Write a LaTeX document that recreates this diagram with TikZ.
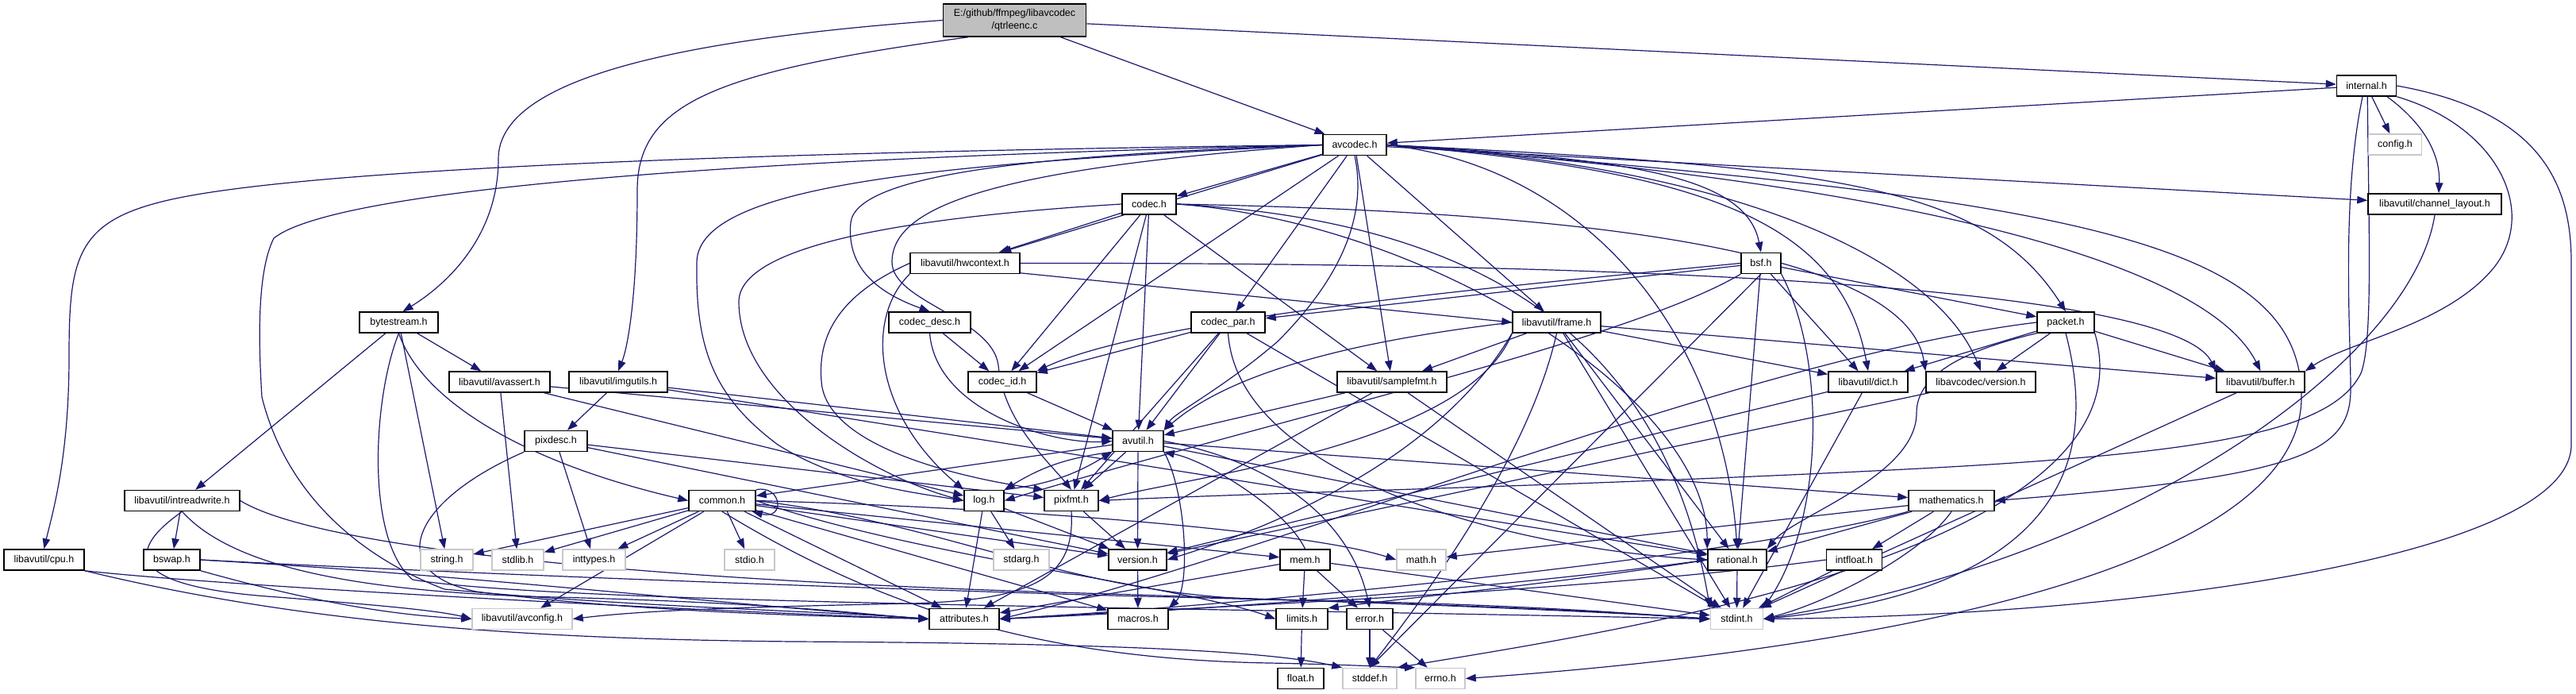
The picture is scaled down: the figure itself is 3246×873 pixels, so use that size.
\documentclass[tikz,border=0pt]{standalone}
\usepackage{fontspec}
\setmainfont{Liberation Sans}
\usetikzlibrary{arrows.meta,backgrounds}
\definecolor{edgeblue}{HTML}{191970}
\definecolor{mainfill}{HTML}{BFBFBF}
\definecolor{extgray}{HTML}{C8C8C8}
\newcommand\nodefont{\fontsize{12.5}{16}\selectfont}
\newcommand\mainnodefont{\fontsize{12.5}{16}\selectfont}
\newcommand\dd[2]{\draw[dep] (#1) -- (#2);}
\tikzset{
 box/.style={draw=black, line width=1.5pt, fill=white, minimum height=26pt, inner sep=0pt, font=\nodefont},
 ext/.style={box, draw=extgray},
 dep/.style={draw=edgeblue, line width=1.2pt, -{Triangle[length=13pt,width=9.5pt]}},
}
\begin{document}
\begin{tikzpicture}[x=1pt,y=-1pt]
\useasboundingbox (0,0) rectangle (3246,873);
% ---------------- nodes
\node[box, fill=mainfill, minimum width=180pt, minimum height=41pt, align=center, font=\mainnodefont] (main) at (1278.5,25.5) {E:/github/ffmpeg/libavcodec\\/qtrleenc.c};
\node[box, minimum width=75pt]  (internal) at (2982,108) {internal.h};
\node[box, minimum width=80pt]  (avcodec) at (1707,182.5) {avcodec.h};
\node[ext, minimum width=67pt]  (config) at (3018,182) {config.h};
\node[box, minimum width=168pt] (chlayout) at (3068,257) {libavutil/channel\_layout.h};
\node[box, minimum width=68pt]  (codec) at (1448,257) {codec.h};
\node[box, minimum width=138pt] (hwctx) at (1216,331.5) {libavutil/hwcontext.h};
\node[box, minimum width=50pt]  (bsf) at (2219,331.5) {bsf.h};
\node[box, minimum width=99pt]  (bytestream) at (502.5,406) {bytestream.h};
\node[box, minimum width=103pt] (codecdesc) at (1171.5,406) {codec\_desc.h};
\node[box, minimum width=93pt]  (codecpar) at (1547.5,406) {codec\_par.h};
\node[box, minimum width=111pt] (frame) at (1961.5,406) {libavutil/frame.h};
\node[box, minimum width=72pt]  (packet) at (2603,406) {packet.h};
\node[box, minimum width=86pt]  (codecid) at (1263,481) {codec\_id.h};
\node[box, minimum width=138pt] (samplefmt) at (1754,481) {libavutil/samplefmt.h};
\node[box, minimum width=100pt] (dict) at (2354,481) {libavutil/dict.h};
\node[box, minimum width=138pt] (lavcver) at (2496,481) {libavcodec/version.h};
\node[box, minimum width=111pt] (buffer) at (2848.5,481) {libavutil/buffer.h};
\node[box, minimum width=127pt] (avassert) at (629.5,481) {libavutil/avassert.h};
\node[box, minimum width=124pt] (imgutils) at (779,481) {libavutil/imgutils.h};
\node[box, minimum width=64pt]  (avutil) at (1434,555.5) {avutil.h};
\node[box, minimum width=79pt]  (pixdesc) at (700.5,555.5) {pixdesc.h};
\node[box, minimum width=145pt] (intreadwrite) at (229.5,630.5) {libavutil/intreadwrite.h};
\node[box, minimum width=84pt]  (common) at (910,630.5) {common.h};
\node[box, minimum width=50pt]  (log) at (1240,630.5) {log.h};
\node[box, minimum width=68pt]  (pixfmt) at (1350,630.5) {pixfmt.h};
\node[box, minimum width=108pt] (mathematics) at (2459,630.5) {mathematics.h};
\node[box, minimum width=101pt] (cpu) at (55.5,705) {libavutil/cpu.h};
\node[box, minimum width=71pt]  (bswap) at (216.5,705) {bswap.h};
\node[ext, minimum width=66pt]  (string) at (563,705) {string.h};
\node[ext, minimum width=65pt]  (stdlib) at (652.5,705) {stdlib.h};
\node[ext, minimum width=79pt]  (inttypes) at (748.5,705) {inttypes.h};
\node[ext, minimum width=63pt]  (stdio) at (944.5,705) {stdio.h};
\node[ext, minimum width=70pt]  (stdarg) at (1287,705) {stdarg.h};
\node[box, minimum width=73pt]  (version) at (1433.5,705) {version.h};
\node[box, minimum width=63pt]  (mem) at (1644.5,705) {mem.h};
\node[ext, minimum width=62pt]  (math) at (1791,705) {math.h};
\node[box, minimum width=74pt]  (rational) at (2189,705) {rational.h};
\node[box, minimum width=70pt]  (intfloat) at (2336.5,705) {intfloat.h};
\node[ext, minimum width=126pt] (avconfig) at (658,779.5) {libavutil/avconfig.h};
\node[box, minimum width=88pt]  (attributes) at (1215,779.5) {attributes.h};
\node[box, minimum width=76pt]  (macros) at (1434,779.5) {macros.h};
\node[box, minimum width=65pt]  (limits) at (1640.5,779.5) {limits.h};
\node[box, minimum width=58pt]  (error) at (1726,779.5) {error.h};
\node[ext, minimum width=66pt]  (stdint) at (2188.5,779.5) {stdint.h};
\node[box, minimum width=58pt]  (float) at (1639,854.5) {float.h};
\node[ext, minimum width=68pt]  (stddef) at (1726,854.5) {stddef.h};
\node[ext, minimum width=62pt]  (errno) at (1815,854.5) {errno.h};
% ---------------- edges
\begin{pgfonlayer}{background}
\fill[white] (0,0) rectangle (3246,873);
% main
\dd{main}{avcodec}
\dd{main}{internal}
\draw[dep] (main.west) .. controls (850,50) and (628,100) .. (628,200) .. controls (628,300) and (560,360) .. (bytestream.70);
\draw[dep] (main.200) .. controls (900,90) and (803,130) .. (803,240) .. controls (803,380) and (790,440) .. (imgutils.north);
% internal
\dd{internal}{avcodec}
\dd{internal}{config}
\draw[dep] ([xshift=26pt]internal.south) .. controls (3060,160) and (3075,200) .. ([xshift=5pt]chlayout.north);
\draw[dep] (internal.south east) .. controls (3150,160) and (3200,270) .. (3140,340) .. controls (3080,410) and (2960,430) .. (buffer.north east);
\draw[dep] (internal.250) .. controls (2950,250) and (2962,420) .. (2962,490) .. controls (2962,570) and (2900,600) .. (mathematics.east);
\draw[dep] (internal.275) .. controls (2985,300) and (2990,430) .. (2975,470) .. controls (2940,540) and (2800,570) .. (2420,590) .. controls (2000,612) and (1600,620) .. (pixfmt.east);
\draw[dep] (internal.east) .. controls (3200,140) and (3240,230) .. (3240,330) -- (3240,560) .. controls (3240,700) and (2700,775) .. (stdint.east);
% avcodec
\draw[dep] (avcodec.west) .. controls (900,192) and (350,215) .. (200,255) .. controls (95,282) and (87,330) .. (87,450) .. controls (87,580) and (65,650) .. (cpu.north);
\draw[dep] (avcodec.west) .. controls (900,200) and (420,240) .. (345,300) .. controls (325,340) and (325,420) .. (330,500) .. controls (360,620) and (450,700) .. (560,742) .. controls (800,765) and (1050,770) .. (attributes.west);
\dd{avcodec}{codec}
\dd{avcodec}{hwctx}
\draw[dep] (avcodec.west) .. controls (1300,195) and (1080,220) .. (1072,280) .. controls (1066,340) and (1110,370) .. (codecdesc.north);
\draw[dep] (avcodec.west) .. controls (1200,205) and (880,230) .. (878,330) .. controls (876,440) and (900,500) .. (980,560) .. controls (1060,610) and (1150,620) .. (log.west);
\draw[dep] (avcodec.west) .. controls (1250,212) and (1124,260) .. (1124,330) .. controls (1124,380) and (1250,400) .. (1258,460) .. controls (1264,530) and (1320,580) .. (pixfmt.north);
\dd{avcodec}{codecid}
\draw[dep] (avcodec.south) .. controls (1725,280) and (1680,360) .. (1610,430) .. controls (1540,490) and (1480,520) .. (avutil.north east);
\dd{avcodec}{samplefmt}
\dd{avcodec}{frame}
\dd{avcodec}{codecpar}
\draw[dep] (avcodec.east) .. controls (2050,200) and (2200,220) .. (bsf.north);
\draw[dep] (avcodec.east) .. controls (2150,215) and (2320,280) .. (dict.north);
\draw[dep] (avcodec.east) .. controls (2200,210) and (2440,330) .. (lavcver.north);
\draw[dep] (avcodec.east) .. controls (2400,230) and (2780,330) .. (buffer.north);
\draw[dep] (avcodec.east) .. controls (2300,210) and (2500,230) .. (packet.north);
\dd{avcodec}{chlayout}
\draw[dep] (avcodec.east) .. controls (2000,210) and (2170,420) .. (rational.north);
\draw[dep] (avcodec.east) .. controls (2600,250) and (2900,300) .. (2900,500) .. controls (2900,750) and (2200,830) .. (errno.east);
% codec
\draw[dep] (codec.east) .. controls (1900,280) and (2100,450) .. (stdint.north west);
\dd{codec}{avutil}
\dd{codec}{hwctx}
\draw[dep] (codec.west) .. controls (1200,270) and (931,300) .. (931,380) .. controls (931,500) and (1100,600) .. (log.west);
\dd{codec}{pixfmt}
\draw[dep] (codec.east) .. controls (1800,280) and (2150,500) .. (rational.north west);
\dd{codec}{samplefmt}
\dd{codec}{codecid}
\draw[dep] (codec.east) .. controls (1900,265) and (2400,300) .. (lavcver.north west);
% hwcontext
\draw[dep] (hwctx.east) .. controls (2300,330) and (2750,380) .. (buffer.north west);
\draw[dep] (hwctx.-10) -- (frame.west);
\draw[dep] (hwctx.south west) .. controls (1090,400) and (1100,520) .. (log.north west);
\draw[dep] (hwctx.west) .. controls (1060,370) and (1030,420) .. (1035,480) .. controls (1040,560) and (1200,600) .. (pixfmt.north west);
% bsf
\draw[dep] (bsf.south) -- (stddef.north);
\draw[dep] (bsf.south east) .. controls (2300,450) and (2300,650) .. (stdint.north east);
\dd{bsf}{dict}
\draw[dep] (bsf.south west) .. controls (2050,430) and (1600,530) .. (log.east);
\draw[dep] (bsf.west) .. controls (1900,360) and (1450,400) .. (codecid.north east);
\dd{bsf}{codecpar}
\dd{bsf}{packet}
\dd{bsf}{rational}
% codec_desc
\draw[dep] (codecdesc.south) .. controls (1180,520) and (1330,560) .. (avutil.west);
\dd{codecdesc}{codecid}
% codec_par
\dd{codecpar}{stdint}
\dd{codecpar}{avutil}
\draw[dep] (codecpar.south) .. controls (1560,600) and (1900,690) .. (rational.west);
\dd{codecpar}{pixfmt}
\dd{codecpar}{codecid}
% codec_id
\dd{codecid}{avutil}
% packet
\draw[dep] (packet.south east) .. controls (2720,700) and (2000,800) .. (stddef.north east);
\draw[dep] (packet.south) .. controls (2640,560) and (2620,740) .. (stdint.east);
\draw[dep] (packet.west) .. controls (2200,450) and (1600,700) .. (attributes.east);
\dd{packet}{buffer}
\dd{packet}{dict}
\draw[dep] (packet.south west) .. controls (2480,440) and (2415,470) .. (2415,520) .. controls (2415,600) and (2260,650) .. (rational.north east);
\dd{packet}{lavcver}
% frame
\draw[dep] (frame.south) .. controls (1930,560) and (1820,720) .. (stddef.north);
\dd{frame}{stdint}
\draw[dep] (frame.west) .. controls (1700,430) and (1550,470) .. (avutil.north east);
\dd{frame}{buffer}
\dd{frame}{dict}
\dd{frame}{rational}
\dd{frame}{samplefmt}
\draw[dep] (frame.south west) .. controls (1850,560) and (1500,600) .. (pixfmt.east);
\draw[dep] (frame.south west) .. controls (1800,600) and (1550,680) .. (version.east);
% samplefmt
\dd{samplefmt}{stdint}
\dd{samplefmt}{avutil}
\dd{samplefmt}{attributes}
% dict, lavc version, buffer, channel layout
\dd{dict}{stdint}
\dd{dict}{version}
\dd{lavcver}{version}
\dd{buffer}{stdint}
\draw[dep] (chlayout.south) .. controls (3040,450) and (2700,700) .. (stdint.east);
% avassert
\dd{avassert}{stdlib}
\dd{avassert}{avutil}
\dd{avassert}{log}
% imgutils
\dd{imgutils}{avutil}
\dd{imgutils}{pixdesc}
\dd{imgutils}{rational}
% pixdesc
\dd{pixdesc}{inttypes}
\draw[dep] (pixdesc.south west) .. controls (520,630) and (480,720) .. (600,745) .. controls (800,770) and (1000,775) .. (attributes.west);
\dd{pixdesc}{pixfmt}
\dd{pixdesc}{version}
% avutil
\dd{avutil}{common}
\draw[dep] (avutil.east) .. controls (1600,580) and (1700,650) .. (error.north);
\dd{avutil}{rational}
\dd{avutil}{version}
\draw[dep] (avutil.south east) .. controls (1495,620) and (1500,740) .. (macros.north east);
\dd{avutil}{mathematics}
\draw[dep] (avutil.south west) to[bend right=12] (log.north east);
\dd{avutil}{pixfmt}
% common
\draw[dep] (common.south) .. controls (1100,760) and (1300,830) .. (1600,835) .. controls (1700,837) and (1750,840) .. (errno.north west);
\dd{common}{inttypes}
\draw[dep] (common.east) .. controls (1150,700) and (1500,740) .. (limits.west);
\draw[dep] (common.east) .. controls (1300,640) and (1650,670) .. (math.west);
\draw[dep] (common.east) .. controls (1200,660) and (1350,750) .. (1600,755) .. controls (1900,760) and (2050,772) .. (stdint.west);
\dd{common}{stdio}
\dd{common}{stdlib}
\dd{common}{string}
\dd{common}{attributes}
\dd{common}{macros}
\dd{common}{version}
\dd{common}{avconfig}
\dd{common}{mem}
\draw[dep] (common.north east) .. controls (985,610) and (990,655) .. ([xshift=-5pt]common.south east);
% log
\dd{log}{stdarg}
\draw[dep] (log.north east) to[bend right=12] (avutil.south west);
\dd{log}{attributes}
\dd{log}{version}
% pixfmt
\draw[dep] (pixfmt.south) .. controls (1355,730) and (1300,755) .. (1150,760) .. controls (900,765) and (800,770) .. (avconfig.east);
\dd{pixfmt}{version}
% mathematics
\draw[dep] (mathematics.south) .. controls (2420,700) and (2300,760) .. (stdint.east);
\dd{mathematics}{math}
\draw[dep] (mathematics.south west) .. controls (2200,700) and (1600,760) .. (attributes.east);
\dd{mathematics}{rational}
\dd{mathematics}{intfloat}
% intfloat
\dd{intfloat}{stdint}
\draw[dep] (intfloat.west) .. controls (2000,745) and (1500,765) .. (attributes.east);
% cpu
\draw[dep] (cpu.south east) .. controls (300,740) and (900,770) .. (attributes.west);
\draw[dep] (cpu.south east) .. controls (400,790) and (700,805) .. (1000,808) .. controls (1400,810) and (1600,820) .. (stddef.north west);
% bswap
\draw[dep] (bswap.east) .. controls (500,718) and (900,735) .. (1400,750) .. controls (1900,762) and (2050,772) .. (stdint.west);
\draw[dep] (bswap.south east) .. controls (400,760) and (500,775) .. (avconfig.west);
\draw[dep] (bswap.east) .. controls (600,725) and (900,760) .. (attributes.west);
% intreadwrite
\draw[dep] (intreadwrite.east) .. controls (400,690) and (800,728) .. (1300,745) .. controls (1800,760) and (2050,772) .. (stdint.west);
\draw[dep] (intreadwrite.south) .. controls (150,700) and (170,740) .. (350,752) .. controls (450,760) and (550,768) .. (avconfig.west);
\draw[dep] (intreadwrite.south) .. controls (280,700) and (400,745) .. (700,752) .. controls (1000,760) and (1100,775) .. (attributes.west);
\dd{intreadwrite}{bswap}
% bytestream
\draw[dep] (bytestream.south) .. controls (470,500) and (460,680) .. (520,730) .. controls (700,760) and (1500,765) .. (stdint.west);
\dd{bytestream}{string}
\dd{bytestream}{avassert}
\draw[dep] (bytestream.south) .. controls (530,500) and (650,580) .. (common.west);
\dd{bytestream}{intreadwrite}
% version
\dd{version}{macros}
% mem
\dd{mem}{limits}
\dd{mem}{stdint}
\dd{mem}{attributes}
\dd{mem}{error}
\draw[dep] (mem.north) .. controls (1620,640) and (1520,580) .. (avutil.south east);
% rational
\dd{rational}{stdint}
\draw[dep] (rational.west) .. controls (2000,730) and (1800,750) .. (limits.north east);
\draw[dep] (rational.west) .. controls (1900,740) and (1500,770) .. (attributes.east);
% error, limits
\dd{error}{errno}
\dd{error}{stddef}
\dd{limits}{float}
\end{pgfonlayer}
\end{tikzpicture}
\end{document}
